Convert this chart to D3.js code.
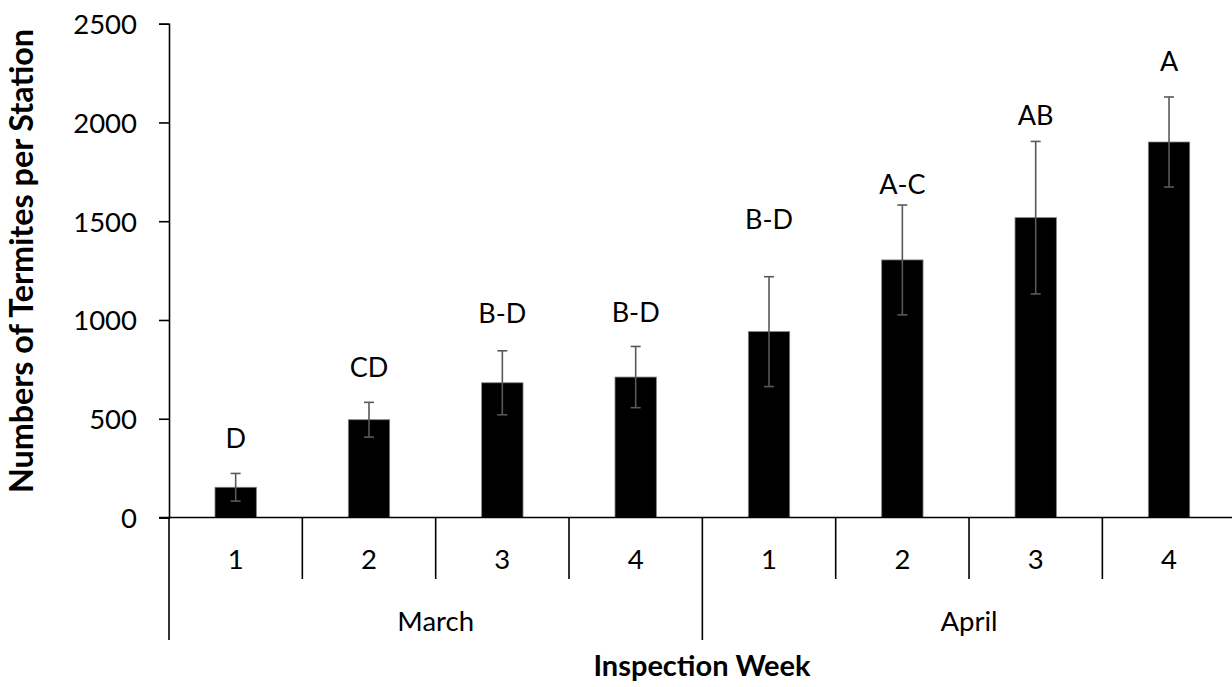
<!DOCTYPE html>
<html>
<head>
<meta charset="utf-8">
<script src="https://cdn.jsdelivr.net/npm/d3@7"></script>
<style>
  body { margin: 0; background: #fff; }
  svg { display: block; font-family: Lato, "Open Sans", sans-serif; }
  .tick-label { font-size: 27.5px; fill: #000; }
  .axis-title { font-weight: bold; fill: #000; }
  .sig { font-size: 27px; fill: #000; }
</style>
</head>
<body>
<svg id="chart" width="1232" height="687"></svg>
<script>
// ---- data ----
var months   = ['March', 'April'];
var weeks    = ['1', '2', '3', '4', '1', '2', '3', '4'];
var means    = [153, 495, 682, 711, 941, 1304, 1518, 1901];
var errs     = [70, 88, 162, 155, 278, 278, 386, 228];
var letters  = ['D', 'CD', 'B-D', 'B-D', 'B-D', 'A-C', 'AB', 'A'];
var letterAt = [353, 713, 983, 991, 1459, 1636, 1987, 2262]; // letter baseline, in data units
var yTicks   = [0, 500, 1000, 1500, 2000, 2500];

var bars = means.map(function (m, i) {
    return { idx: i, week: weeks[i], mean: m, se: errs[i], letter: letters[i], at: letterAt[i] };
});

var svg = d3.select('#chart');

var x = d3.scaleBand()
    .domain(d3.range(bars.length))
    .range([169, 1235.7])
    .padding(0);

var y = d3.scaleLinear()
    .domain([0, 2500])
    .range([517.5, 23.7]);

var barW = x.bandwidth() * 0.31;
var capW = 10;

//-------------------------------------------------------------------------------
// bars
svg.append('g')
    .selectAll('rect')
    .data(bars)
    .join('rect')
    .attr('x', d => x(d.idx) + x.bandwidth() / 2 - barW / 2)
    .attr('y', d => y(d.mean))
    .attr('width', barW)
    .attr('height', d => y(0) - y(d.mean))
    .attr('fill', '#000')
    .attr('stroke', '#7f7f7f')
    .attr('stroke-width', 0.8);

//-------------------------------------------------------------------------------
// error bars
var gErr = svg.append('g')
    .attr('stroke', '#595959')
    .attr('stroke-width', 1.6);

gErr.selectAll('line.stem')
    .data(bars)
    .join('line')
    .attr('class', 'stem')
    .attr('x1', d => x(d.idx) + x.bandwidth() / 2)
    .attr('x2', d => x(d.idx) + x.bandwidth() / 2)
    .attr('y1', d => y(d.mean - d.se))
    .attr('y2', d => y(d.mean + d.se));

[-1, 1].forEach(function (s) {
    gErr.selectAll('line.cap' + (s > 0 ? 'hi' : 'lo'))
        .data(bars)
        .join('line')
        .attr('class', 'cap' + (s > 0 ? 'hi' : 'lo'))
        .attr('x1', d => x(d.idx) + x.bandwidth() / 2 - capW / 2)
        .attr('x2', d => x(d.idx) + x.bandwidth() / 2 + capW / 2)
        .attr('y1', d => y(d.mean + s * d.se))
        .attr('y2', d => y(d.mean + s * d.se));
});

//-------------------------------------------------------------------------------
// significance letters
svg.append('g')
    .selectAll('text')
    .data(bars)
    .join('text')
    .attr('class', 'sig')
    .attr('x', d => x(d.idx) + x.bandwidth() / 2)
    .attr('y', d => y(d.at))
    .attr('text-anchor', 'middle')
    .text(d => d.letter);

//-------------------------------------------------------------------------------
// y axis
var yAxis = d3.axisLeft(y)
    .tickValues(yTicks)
    .tickSize(10)
    .tickPadding(22)
    .tickFormat(d3.format('d'));

var gY = svg.append('g')
    .attr('transform', 'translate(169,0)')
    .call(yAxis);
gY.attr('font-family', null).attr('font-size', null);
gY.select('.domain').attr('stroke', '#000').attr('stroke-width', 1.6);
gY.selectAll('.tick line').attr('stroke', '#000').attr('stroke-width', 1.6);
gY.selectAll('.tick text')
    .attr('class', 'tick-label')
    .attr('dy', '0.36em');

//-------------------------------------------------------------------------------
// x axis: baseline, week dividers, month dividers
var gX = svg.append('g').attr('stroke', '#000').attr('stroke-width', 1.6);

gX.append('line')
    .attr('x1', 159).attr('x2', x.range()[1])
    .attr('y1', y(0)).attr('y2', y(0));

// week dividers (skip the month boundary, drawn longer below)
gX.selectAll('line.wk')
    .data(d3.range(1, bars.length).filter(i => i % 4 !== 0))
    .join('line')
    .attr('class', 'wk')
    .attr('x1', i => x(i)).attr('x2', i => x(i))
    .attr('y1', y(0)).attr('y2', 579);

// month dividers: left edge and month boundary
gX.selectAll('line.mo')
    .data([0, 4])
    .join('line')
    .attr('class', 'mo')
    .attr('x1', i => x(i)).attr('x2', i => x(i))
    .attr('y1', y(0)).attr('y2', 640);

svg.append('g')
    .selectAll('text')
    .data(bars)
    .join('text')
    .attr('class', 'tick-label')
    .attr('x', d => x(d.idx) + x.bandwidth() / 2)
    .attr('y', 569)
    .attr('text-anchor', 'middle')
    .text(d => d.week);

svg.append('g')
    .selectAll('text')
    .data(months)
    .join('text')
    .attr('class', 'tick-label')
    .attr('x', (m, i) => (x(i * 4) + (i === 0 ? x(4) : x.range()[1])) / 2)
    .attr('y', 631)
    .attr('text-anchor', 'middle')
    .text(m => m);

//-------------------------------------------------------------------------------
// titles
svg.append('text')
    .attr('class', 'axis-title')
    .attr('font-size', 29)
    .attr('x', 702)
    .attr('y', 676)
    .attr('text-anchor', 'middle')
    .text('Inspection Week');

svg.append('text')
    .attr('class', 'axis-title')
    .attr('font-size', 32.3)
    .attr('transform', 'translate(33,261) rotate(-90)')
    .attr('text-anchor', 'middle')
    .text('Numbers of Termites per Station');
</script>
</body>
</html>
